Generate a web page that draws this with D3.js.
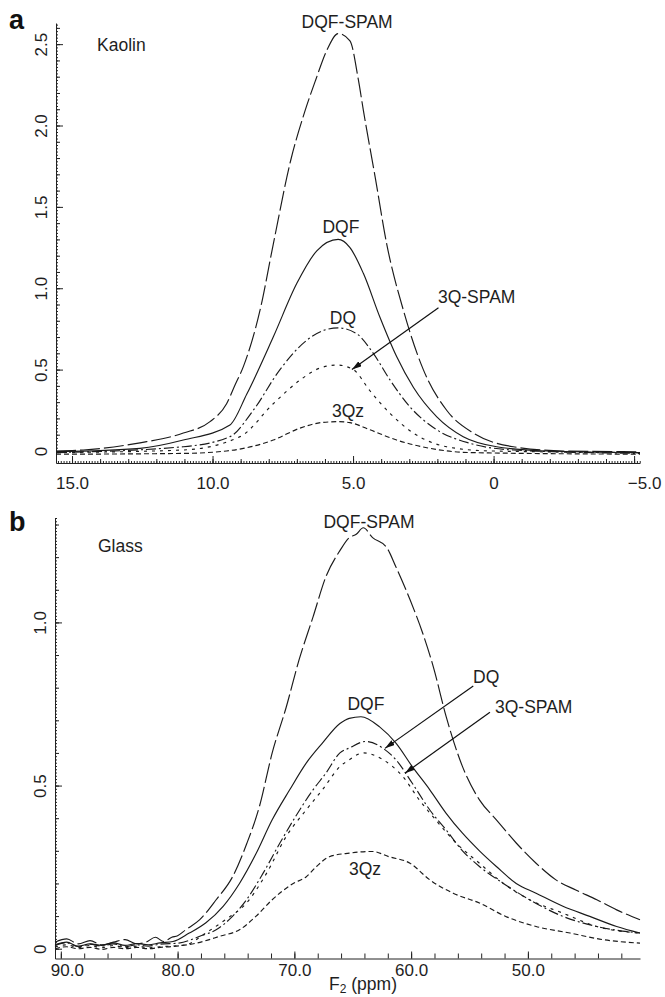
<!DOCTYPE html>
<html lang="en">
<head>
<meta charset="UTF-8">
<title>Kaolin and Glass spectra</title>
<script src="https://d3js.org/d3.v7.min.js"></script>
<style>
  body { margin: 0; padding: 0; background: #fff; }
  svg { display: block; font-family: "Liberation Sans", Arial, sans-serif; }
  .lbl { font-size: 17.5px; fill: #1e1e1e; }
  .tick text { font-size: 17px; fill: #1e1e1e; font-family: "Liberation Sans", Arial, sans-serif; }
  .tick line, .domain { stroke: #222; }
  .panel-letter { font-size: 27px; font-weight: bold; fill: #111; }
</style>
</head>
<body>
<svg id="chart" width="665" height="997"></svg>
<script>
// ---- panel a: Kaolin, [F2 ppm, intensity] ----
const kaolinDqfSpam = [[15.57,0.0],[14.6,0.006],[12.58,0.05],[11.04,0.11],[10.09,0.18],[9.5,0.29],[9.2,0.405],
  [8.9,0.52],[8.31,0.865],[7.84,1.27],[7.22,1.785],[6.71,2.09],[6.33,2.28],[5.94,2.46],[5.53,2.565],
  [5.11,2.52],[4.81,2.28],[4.63,2.09],[4.21,1.68],[3.8,1.27],[3.21,0.865],[2.5,0.5],[1.67,0.25],
  [0.72,0.11],[-0.7,0.026],[-2.48,0.0],[-5.21,-0.005]];
const kaolinDqf = [[15.57,-0.005],[12.58,0.016],[11.04,0.067],[9.38,0.16],[8.78,0.35],[7.84,0.7],[7.0,1.03],
  [6.29,1.23],[5.53,1.3],[5.11,1.25],[4.63,1.09],[4.04,0.82],[3.45,0.58],[2.85,0.39],[2.02,0.21],
  [1.08,0.088],[-0.11,0.026],[-1.89,0.0],[-5.21,-0.01]];
const kaolinDq = [[15.57,-0.01],[11.04,0.026],[9.38,0.088],[8.55,0.25],[7.6,0.5],[6.65,0.68],[6.06,0.74],
  [5.53,0.756],[4.87,0.72],[4.28,0.6],[3.68,0.435],[2.97,0.27],[2.02,0.13],[0.84,0.047],[-0.69,0.006],
  [-5.21,-0.015]];
const kaolin3QSpam = [[15.57,-0.01],[11.04,0.006],[9.02,0.088],[7.84,0.29],[6.89,0.435],[6.17,0.51],
  [5.57,0.528],[4.99,0.5],[4.4,0.37],[3.68,0.23],[2.85,0.11],[1.67,0.026],[0.12,0.0],[-5.21,-0.01]];
const kaolin3Qz = [[15.57,-0.02],[11.04,-0.015],[9.5,0.0],[7.84,0.067],[6.89,0.14],[6.06,0.176],[5.53,0.18],
  [5.11,0.174],[4.4,0.13],[3.45,0.067],[2.26,0.016],[0.84,-0.01],[-5.21,-0.02]];

const kaolinXTicks = [15, 10, 5, 0, -5];
const kaolinYTicks = [0, 0.5, 1, 1.5, 2, 2.5];
const kaolinLabels = [
  {text: "DQF-SPAM", at: [5.21, 2.6], anchor: "middle"},
  {text: "DQF", at: [5.43, 1.34], anchor: "middle"},
  {text: "DQ", at: [5.36, 0.78], anchor: "middle"},
  {text: "3Q-SPAM", at: [1.98, 0.91], anchor: "start"},
  {text: "3Qz", at: [5.18, 0.21], anchor: "middle"},
  {text: "Kaolin", at: [14.11, 2.46], anchor: "start"}
];
const kaolinArrows = [{from: [1.96, 0.88], to: [5.04, 0.5]}];

// ---- panel b: Glass, [F2 ppm, intensity] ----
const glassDqfSpam = [[90.5,0.02],[89.5,0.03],[88.5,0.015],[87.5,0.025],[86.5,0.012],[85.5,0.02],[84.5,0.028],
  [83.5,0.015],[82.7,0.02],[81.9,0.035],[81.2,0.022],[80.5,0.035],[80.0,0.04],[79.3,0.058],[78.1,0.089],
  [76.7,0.15],[75.3,0.22],[74.1,0.32],[73.0,0.435],[71.9,0.6],[70.7,0.74],[69.6,0.885],[68.4,1.017],
  [67.3,1.14],[66.1,1.22],[65.3,1.26],[64.7,1.27],[64.1,1.29],[63.3,1.26],[62.1,1.23],[61.3,1.17],
  [60.1,1.07],[59.0,0.966],[58.1,0.864],[57.0,0.711],[55.6,0.558],[54.15,0.456],[52.7,0.395],[51.0,0.324],
  [49.3,0.262],[47.6,0.211],[45.9,0.18],[44.1,0.15],[42.4,0.119],[40.4,0.089]];
const glassDqf = [[90.5,0.012],[89.5,0.02],[88.5,0.008],[87.5,0.015],[86.5,0.01],[85.5,0.018],[84.5,0.01],
  [83.5,0.016],[82.5,0.012],[81.5,0.018],[80.4,0.022],[79.0,0.048],[77.6,0.079],[76.1,0.13],[74.7,0.2],
  [73.3,0.29],[71.9,0.395],[70.4,0.487],[69.0,0.568],[67.6,0.63],[66.1,0.69],[65.3,0.706],[64.3,0.711],
  [62.7,0.68],[61.3,0.63],[59.9,0.558],[58.4,0.487],[57.0,0.415],[55.6,0.354],[54.15,0.3],[52.7,0.252],
  [51.0,0.2],[49.3,0.17],[47.0,0.13],[44.7,0.099],[42.4,0.068],[40.4,0.048]];
const glassDq = [[90.5,0.01],[89.5,0.018],[88.5,0.006],[87.5,0.014],[86.5,0.008],[85.5,0.015],[84.5,0.006],
  [83.5,0.012],[82.5,0.008],[81.5,0.014],[79.9,0.017],[78.1,0.038],[76.7,0.058],[75.3,0.099],[74.1,0.15],
  [72.7,0.23],[71.3,0.32],[69.9,0.405],[68.4,0.487],[67.3,0.538],[66.1,0.6],[65.3,0.615],[63.9,0.635],
  [62.4,0.614],[61.3,0.579],[59.9,0.507],[58.4,0.425],[57.0,0.364],[55.6,0.3],[54.15,0.252],[52.1,0.2],
  [49.85,0.15],[47.0,0.099],[44.1,0.068],[40.4,0.048]];
const glass3QSpam = [[90.5,0.005],[89.5,0.012],[88.5,0.004],[87.5,0.01],[86.5,0.003],[85.5,0.01],[84.5,0.004],
  [83.5,0.008],[82.5,0.003],[81.5,0.006],[79.3,0.012],[77.6,0.048],[75.9,0.089],[74.1,0.14],[72.4,0.23],
  [70.7,0.344],[69.0,0.425],[67.6,0.487],[66.1,0.558],[65.3,0.579],[64.1,0.6],[62.4,0.579],[60.7,0.527],
  [59.3,0.456],[57.9,0.395],[56.15,0.324],[54.15,0.262],[52.1,0.2],[49.85,0.15],[47.0,0.109],[44.1,0.068],
  [40.4,0.048]];
const glass3Qz = [[90.5,0.0],[89.5,0.006],[88.5,0.0],[87.5,0.004],[86.5,-0.002],[85.5,0.004],[84.5,0.0],
  [83.5,0.004],[82.5,0.0],[81.5,0.004],[80.4,0.007],[78.4,0.017],[76.4,0.038],[74.7,0.058],[73.3,0.099],
  [71.9,0.15],[70.1,0.2],[69.0,0.22],[68.1,0.252],[67.0,0.282],[65.3,0.293],[63.3,0.298],[61.9,0.282],
  [60.1,0.262],[58.4,0.211],[56.4,0.17],[54.15,0.14],[51.9,0.099],[49.3,0.068],[46.4,0.048],[43.6,0.028],
  [40.4,0.017]];

const glassXTicks = [90, 80, 70, 60, 50];
const glassYTicks = [0, 0.5, 1];
const glassLabels = [
  {text: "DQF-SPAM", at: [63.61, 1.29], anchor: "middle"},
  {text: "DQF", at: [63.87, 0.732], anchor: "middle"},
  {text: "DQ", at: [54.7, 0.814], anchor: "start"},
  {text: "3Q-SPAM", at: [52.82, 0.722], anchor: "start"},
  {text: "3Qz", at: [63.95, 0.227], anchor: "middle"},
  {text: "Glass", at: [86.82, 1.215], anchor: "start"}
];
const glassArrows = [
  {from: [54.68, 0.805], to: [62.24, 0.614]},
  {from: [53.25, 0.725], to: [60.53, 0.538]}
];

// line styles per experiment
const dashes = {
  "DQF-SPAM": "20,4",
  "DQF": null,
  "DQ": "10,3,2,3",
  "3Q-SPAM": "3,5",
  "3Qz": "5,3"
};

const svg = d3.select("#chart");
svg.append("rect").attr("width", 665).attr("height", 997).attr("fill", "#fff");

svg.append("defs").append("marker")
  .attr("id", "arrow")
  .attr("viewBox", "0 0 10 10")
  .attr("refX", 10).attr("refY", 5)
  .attr("markerUnits", "userSpaceOnUse")
  .attr("markerWidth", 10).attr("markerHeight", 6)
  .attr("preserveAspectRatio", "none")
  .attr("orient", "auto")
  .append("path").attr("d", "M0,0L10,5L0,10z").attr("fill", "#111");

const fmt = v => v === 0 ? "0" : d3.format(".1f")(v);

function steps(lo, hi, step) {
  const n0 = Math.ceil(lo / step - 1e-9), n1 = Math.floor(hi / step + 1e-9);
  return d3.range(n0, n1 + 1).map(i => +(i * step).toFixed(4));
}

function drawPanel(p) {
  const g = svg.append("g");
  const x = d3.scaleLinear().domain(p.xDomain).range([p.left, p.right]);
  const y = d3.scaleLinear().domain(p.yDomain).range([p.bottom, p.top]);
  const xlo = d3.min(p.xDomain), xhi = d3.max(p.xDomain);

  // x axis: minor + medium ticks, then labelled majors
  p.xMinor.forEach(([step, len]) => {
    g.append("g").attr("transform", `translate(0,${p.bottom})`)
      .call(d3.axisBottom(x).tickValues(steps(xlo, xhi, step)).tickSizeInner(-len).tickSizeOuter(0).tickFormat(""))
      .call(a => a.select(".domain").remove());
  });
  g.append("g").attr("transform", `translate(0,${p.bottom})`)
    .call(d3.axisBottom(x).tickValues(p.xTicks).tickSizeInner(-7).tickSizeOuter(0)
      .tickPadding(p.xPad).tickFormat(fmt))
    .call(a => a.selectAll(".tick text").attr("dx", d => p.edgeShift[d] || 0));

  // y axis
  p.yMinor.forEach(([step, len]) => {
    g.append("g").attr("transform", `translate(${p.left},0)`)
      .call(d3.axisLeft(y).tickValues(steps(0, p.yDomain[1], step)).tickSizeInner(-len).tickSizeOuter(0).tickFormat(""))
      .call(a => a.select(".domain").remove());
  });
  g.append("g").attr("transform", `translate(${p.left},0)`)
    .call(d3.axisLeft(y).tickValues(p.yTicks).tickSizeInner(-7).tickSizeOuter(0).tickFormat(fmt))
    .call(a => a.selectAll("text")
      .attr("x", null).attr("dy", null)
      .attr("text-anchor", "middle")
      .attr("transform", "translate(-9,0) rotate(-90)"));

  // spectra
  const line = d3.line().x(d => x(d[0])).y(d => y(d[1])).curve(d3.curveMonotoneX);
  p.series.forEach(s => {
    g.append("path")
      .datum(s.values)
      .attr("d", line)
      .attr("fill", "none")
      .attr("stroke", "#1a1a1a")
      .attr("stroke-width", 1.15)
      .attr("stroke-dasharray", dashes[s.name]);
  });

  // labels and arrows
  g.selectAll("text.lbl").data(p.labels).join("text")
    .attr("class", "lbl")
    .attr("x", d => x(d.at[0])).attr("y", d => y(d.at[1]))
    .attr("text-anchor", d => d.anchor)
    .text(d => d.text);
  g.selectAll("line.arr").data(p.arrows).join("line")
    .attr("class", "arr")
    .attr("x1", d => x(d.from[0])).attr("y1", d => y(d.from[1]))
    .attr("x2", d => x(d.to[0])).attr("y2", d => y(d.to[1]))
    .attr("stroke", "#111").attr("stroke-width", 1.2)
    .attr("marker-end", "url(#arrow)");

  g.append("text").attr("class", "panel-letter")
    .attr("x", 9).attr("y", p.letterY).text(p.letter);
  return g;
}

drawPanel({
  letter: "a", letterY: 29,
  left: 56, right: 640, top: 23, bottom: 463,
  xDomain: [15.57, -5.21], yDomain: [-0.074, 2.63],
  xTicks: kaolinXTicks, yTicks: kaolinYTicks, xPad: 14, edgeShift: {"-5": 10},
  xMinor: [[0.1, 2], [1, 4]], yMinor: [[0.02, 2], [0.1, 4]],
  series: [
    {name: "DQF-SPAM", values: kaolinDqfSpam},
    {name: "DQF", values: kaolinDqf},
    {name: "DQ", values: kaolinDq},
    {name: "3Q-SPAM", values: kaolin3QSpam},
    {name: "3Qz", values: kaolin3Qz}
  ],
  labels: kaolinLabels, arrows: kaolinArrows
});

const panelB = drawPanel({
  letter: "b", letterY: 531,
  left: 55, right: 640, top: 518, bottom: 958.5,
  xDomain: [90.5, 40.4], yDomain: [-0.03, 1.32],
  xTicks: glassXTicks, yTicks: glassYTicks, xPad: 5, edgeShift: {"90": 6},
  xMinor: [[2, 5]], yMinor: [[0.01, 2], [0.1, 4]],
  series: [
    {name: "DQF-SPAM", values: glassDqfSpam},
    {name: "DQF", values: glassDqf},
    {name: "DQ", values: glassDq},
    {name: "3Q-SPAM", values: glass3QSpam},
    {name: "3Qz", values: glass3Qz}
  ],
  labels: glassLabels, arrows: glassArrows
});

// axis title with subscript
const title = panelB.append("text").attr("class", "lbl")
  .attr("x", 363).attr("y", 990).attr("text-anchor", "middle");
title.append("tspan").text("F");
title.append("tspan").attr("font-size", "12px").attr("dy", 3).text("2");
title.append("tspan").attr("dy", -3).text(" (ppm)");
</script>
</body>
</html>
